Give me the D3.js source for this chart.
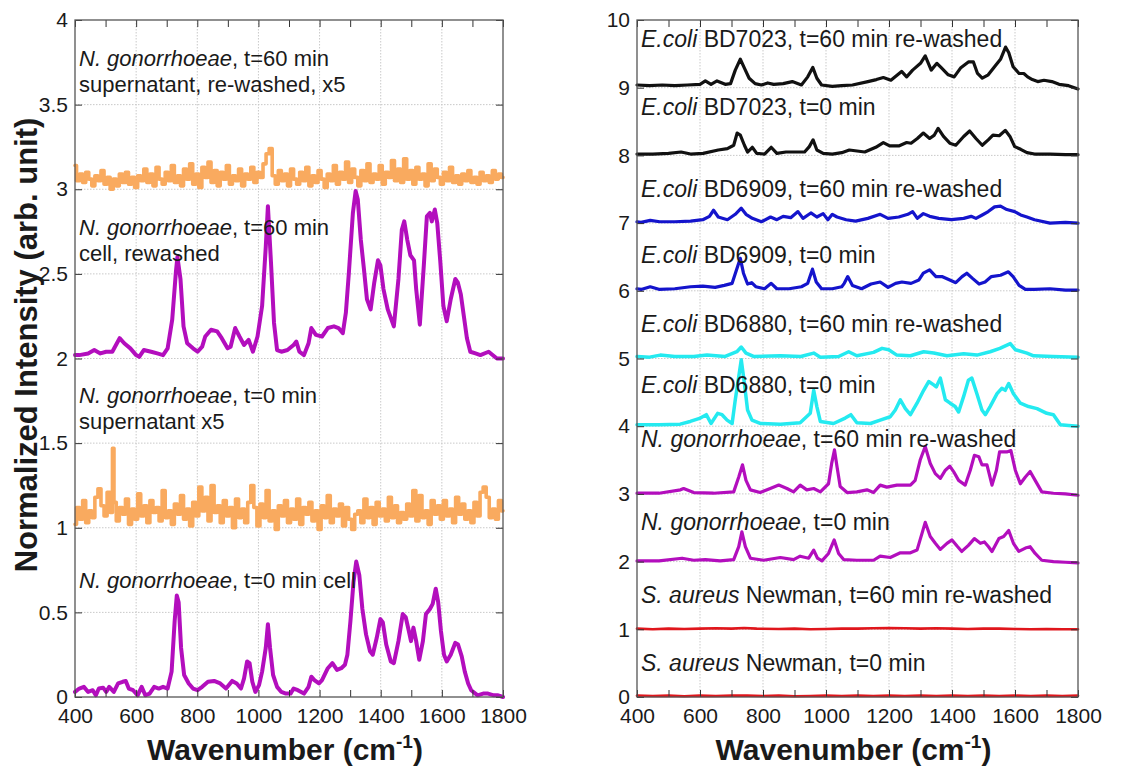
<!DOCTYPE html>
<html><head><meta charset="utf-8">
<script src="https://cdn.jsdelivr.net/npm/d3@7"></script>
<style>
body{margin:0;background:#fff;}
text{font-family:"Liberation Sans",Arial,Helvetica,sans-serif;fill:#1a1a1a;}
</style>
</head><body>
<svg id="c" width="1137" height="769"></svg>
<script>
// ---------- DATA (wavenumber cm-1, normalized intensity) ----------
const xTicks = [400,500,600,700,800,900,1000,1100,1200,1300,1400,1500,1600,1700,1800];
const xLabels = [400,600,800,1000,1200,1400,1600,1800];
const yTicksLeft = [0,0.5,1,1.5,2,2.5,3,3.5,4];
const yTicksRight = [0,1,2,3,4,5,6,7,8,9,10];

const ngSuper60 = [[400,3.14],[410,3.05],[420,3.09],[430,3.04],[440,3.10],[450,3.06],[460,3.02],[470,3.08],[480,3.05],[490,3.11],[500,3.03],[510,3.07],[520,3.00],[530,3.06],[540,3.02],[550,3.09],[560,3.04],[570,3.10],[580,3.03],[590,3.07],[600,3.01],[610,3.08],[620,3.05],[630,3.12],[640,3.04],[650,3.09],[660,3.02],[670,3.13],[680,3.06],[690,3.03],[700,3.10],[710,3.05],[720,3.14],[730,3.04],[740,3.08],[750,3.02],[760,3.12],[770,3.06],[780,3.15],[790,3.03],[800,3.09],[810,3.01],[820,3.13],[830,3.07],[840,3.16],[850,3.04],[860,3.11],[870,3.02],[880,3.10],[890,3.06],[900,3.14],[910,3.03],[920,3.08],[930,3.05],[940,3.12],[950,3.02],[960,3.09],[970,3.06],[980,3.13],[990,3.04],[1000,3.10],[1010,3.07],[1020,3.15],[1030,3.21],[1040,3.24],[1050,3.08],[1060,3.03],[1070,3.11],[1080,3.05],[1090,3.09],[1100,3.02],[1110,3.12],[1120,3.06],[1130,3.03],[1140,3.10],[1150,3.05],[1160,3.13],[1170,3.02],[1180,3.08],[1190,3.04],[1200,3.11],[1210,3.06],[1220,3.01],[1230,3.09],[1240,3.05],[1250,3.14],[1260,3.03],[1270,3.10],[1280,3.06],[1290,3.16],[1300,3.04],[1310,3.12],[1320,3.07],[1330,3.02],[1340,3.11],[1350,3.05],[1360,3.15],[1370,3.04],[1380,3.09],[1390,3.06],[1400,3.14],[1410,3.03],[1420,3.10],[1430,3.07],[1440,3.17],[1450,3.05],[1460,3.12],[1470,3.04],[1480,3.18],[1490,3.06],[1500,3.11],[1510,3.03],[1520,3.13],[1530,3.06],[1540,3.09],[1550,3.02],[1560,3.15],[1570,3.05],[1580,3.12],[1590,3.07],[1600,3.03],[1610,3.10],[1620,3.05],[1630,3.13],[1640,3.04],[1650,3.08],[1660,3.03],[1670,3.09],[1680,3.05],[1690,3.11],[1700,3.04],[1710,3.07],[1720,3.03],[1730,3.10],[1740,3.05],[1750,3.08],[1760,3.04],[1770,3.11],[1780,3.06],[1790,3.09],[1800,3.07]];

const ngCell60 = [[400,2.02],[414,2.02],[443,2.03],[463,2.05],[483,2.03],[502,2.04],[522,2.04],[546,2.12],[561,2.09],[581,2.06],[600,2.02],[610,2.01],[625,2.05],[649,2.04],[669,2.03],[688,2.02],[703,2.06],[718,2.23],[730,2.51],[735,2.60],[745,2.47],[755,2.19],[767,2.09],[786,2.06],[801,2.04],[816,2.07],[826,2.13],[845,2.17],[865,2.16],[880,2.12],[899,2.06],[909,2.07],[924,2.18],[938,2.13],[953,2.08],[968,2.11],[982,2.04],[997,2.13],[1012,2.31],[1024,2.66],[1031,2.90],[1041,2.57],[1051,2.21],[1061,2.05],[1075,2.04],[1095,2.05],[1115,2.08],[1124,2.10],[1134,2.04],[1149,2.02],[1164,2.09],[1173,2.18],[1188,2.14],[1208,2.13],[1227,2.18],[1247,2.19],[1262,2.18],[1276,2.15],[1286,2.27],[1296,2.51],[1309,2.86],[1318,2.99],[1325,2.94],[1335,2.70],[1345,2.53],[1355,2.35],[1367,2.29],[1379,2.45],[1391,2.58],[1399,2.55],[1409,2.41],[1423,2.29],[1443,2.19],[1458,2.47],[1469,2.76],[1477,2.81],[1487,2.70],[1497,2.61],[1509,2.58],[1516,2.41],[1528,2.20],[1541,2.55],[1551,2.84],[1561,2.86],[1567,2.81],[1577,2.88],[1585,2.80],[1595,2.57],[1605,2.31],[1616,2.22],[1629,2.35],[1644,2.47],[1652,2.45],[1662,2.38],[1672,2.25],[1682,2.12],[1693,2.04],[1710,2.03],[1726,2.02],[1753,2.04],[1780,2.00],[1800,2.00]];

const ngSuper0 = [[400,1.02],[410,1.12],[420,1.05],[430,1.16],[440,1.03],[450,1.10],[460,1.06],[470,1.18],[480,1.23],[490,1.13],[500,1.07],[510,1.21],[520,1.09],[525,1.47],[530,1.15],[540,1.04],[550,1.12],[560,1.08],[570,1.17],[580,1.02],[590,1.11],[600,1.05],[610,1.20],[620,1.07],[630,1.13],[640,1.03],[650,1.16],[660,1.09],[670,1.12],[680,1.04],[690,1.22],[700,1.06],[710,1.10],[720,1.02],[730,1.14],[740,1.08],[750,1.19],[760,1.05],[770,1.11],[780,1.01],[790,1.15],[800,1.07],[810,1.24],[820,1.10],[830,1.18],[840,1.04],[850,1.25],[860,1.09],[870,1.13],[880,1.03],[890,1.16],[900,1.07],[910,1.12],[920,1.00],[930,1.17],[940,1.06],[950,1.11],[960,1.03],[970,1.15],[980,1.25],[990,1.12],[1000,1.01],[1010,1.14],[1020,1.06],[1030,1.22],[1040,1.04],[1050,1.10],[1060,0.99],[1070,1.13],[1080,1.07],[1090,1.16],[1100,1.03],[1110,1.11],[1120,1.05],[1130,1.17],[1140,1.02],[1150,1.12],[1160,1.08],[1170,1.15],[1180,1.04],[1190,1.10],[1200,0.99],[1210,1.13],[1220,1.06],[1230,1.19],[1240,1.03],[1250,1.11],[1260,1.07],[1270,1.14],[1280,1.01],[1290,1.12],[1300,1.05],[1310,0.99],[1320,1.08],[1330,1.10],[1340,1.03],[1350,1.17],[1360,1.06],[1370,1.12],[1380,1.02],[1390,1.15],[1400,1.07],[1410,1.11],[1420,1.04],[1430,1.18],[1440,1.06],[1450,1.13],[1460,1.03],[1470,1.09],[1480,1.05],[1490,1.14],[1500,1.07],[1510,1.22],[1520,1.04],[1530,1.19],[1540,1.06],[1550,1.10],[1560,1.02],[1570,1.16],[1580,1.08],[1590,1.13],[1600,1.05],[1610,1.16],[1620,1.07],[1630,1.11],[1640,1.03],[1650,1.18],[1660,1.08],[1670,1.14],[1680,1.05],[1690,1.10],[1700,1.03],[1710,1.15],[1720,1.07],[1730,1.21],[1740,1.24],[1750,1.18],[1760,1.06],[1770,1.11],[1780,1.05],[1790,1.16],[1800,1.10]];

const ngCell0 = [[400,0.03],[414,0.05],[429,0.06],[443,0.03],[458,0.04],[468,0.01],[478,0.05],[492,0.055],[502,0.03],[512,0.06],[527,0.03],[541,0.08],[556,0.09],[566,0.095],[576,0.05],[590,0.04],[605,0.01],[618,0.06],[630,0.01],[644,0.02],[659,0.06],[674,0.05],[688,0.06],[703,0.05],[716,0.15],[726,0.45],[733,0.60],[739,0.56],[747,0.29],[757,0.13],[772,0.08],[786,0.05],[801,0.04],[816,0.06],[835,0.09],[855,0.095],[875,0.08],[894,0.05],[914,0.095],[929,0.08],[943,0.05],[953,0.11],[963,0.21],[971,0.20],[980,0.09],[990,0.03],[1002,0.07],[1012,0.15],[1024,0.29],[1031,0.43],[1038,0.29],[1048,0.13],[1061,0.06],[1075,0.03],[1090,0.02],[1105,0.02],[1115,0.05],[1129,0.04],[1149,0.02],[1164,0.06],[1173,0.12],[1183,0.10],[1198,0.08],[1208,0.10],[1227,0.17],[1242,0.20],[1257,0.16],[1271,0.17],[1283,0.19],[1291,0.25],[1301,0.45],[1311,0.68],[1320,0.80],[1330,0.72],[1340,0.52],[1352,0.37],[1365,0.27],[1374,0.25],[1387,0.35],[1399,0.46],[1407,0.44],[1418,0.31],[1433,0.21],[1443,0.20],[1458,0.33],[1472,0.49],[1482,0.47],[1492,0.39],[1499,0.33],[1507,0.41],[1516,0.33],[1526,0.22],[1538,0.33],[1548,0.49],[1561,0.52],[1570,0.55],[1580,0.64],[1588,0.56],[1597,0.39],[1607,0.25],[1616,0.21],[1629,0.25],[1644,0.32],[1653,0.31],[1665,0.24],[1675,0.15],[1686,0.08],[1696,0.04],[1717,0.01],[1735,0.02],[1751,0.02],[1770,0.01],[1784,0.01],[1800,0.0]];

const ec7023_60 = [[400,9.04],[440,9.03],[480,9.04],[520,9.03],[560,9.04],[600,9.05],[617,9.10],[635,9.05],[654,9.10],[680,9.05],[697,9.06],[712,9.26],[728,9.42],[741,9.29],[756,9.14],[775,9.06],[795,9.04],[815,9.07],[834,9.05],[864,9.06],[893,9.09],[922,9.04],[942,9.16],[958,9.30],[971,9.14],[986,9.04],[1020,9.02],[1050,9.03],[1084,9.04],[1133,9.09],[1160,9.12],[1182,9.15],[1206,9.11],[1240,9.24],[1256,9.16],[1275,9.26],[1300,9.36],[1315,9.47],[1334,9.26],[1352,9.36],[1365,9.30],[1388,9.19],[1407,9.16],[1427,9.29],[1452,9.38],[1468,9.38],[1481,9.21],[1496,9.14],[1515,9.19],[1535,9.31],[1554,9.42],[1570,9.60],[1580,9.52],[1594,9.31],[1613,9.21],[1628,9.21],[1640,9.16],[1655,9.12],[1672,9.09],[1692,9.11],[1717,9.09],[1740,9.05],[1770,9.03],[1800,8.98]];

const ec7023_0 = [[400,8.02],[450,8.02],[500,8.03],[540,8.05],[570,8.02],[610,8.03],[658,8.08],[687,8.10],[707,8.15],[718,8.33],[728,8.30],[741,8.15],[751,8.05],[766,8.12],[780,8.03],[805,8.02],[826,8.12],[844,8.03],[873,8.05],[903,8.05],[932,8.05],[947,8.13],[959,8.23],[971,8.08],[991,8.03],[1020,8.02],[1050,8.04],[1074,8.08],[1123,8.05],[1158,8.12],[1182,8.19],[1202,8.14],[1231,8.14],[1256,8.19],[1270,8.18],[1290,8.25],[1309,8.33],[1329,8.25],[1344,8.30],[1356,8.40],[1373,8.28],[1393,8.18],[1412,8.15],[1437,8.28],[1456,8.36],[1476,8.25],[1496,8.15],[1515,8.23],[1530,8.30],[1550,8.29],[1569,8.37],[1584,8.28],[1599,8.13],[1618,8.09],[1638,8.04],[1662,8.02],[1711,8.02],[1760,8.01],[1800,8.01]];

const ec6909_60 = [[400,7.02],[413,7.01],[442,7.04],[472,7.02],[520,7.02],[570,7.03],[609,7.05],[630,7.10],[643,7.19],[658,7.09],[687,7.05],[712,7.13],[731,7.22],[746,7.13],[766,7.07],[795,7.02],[824,7.09],[844,7.05],[864,7.10],[888,7.08],[911,7.17],[927,7.07],[952,7.15],[971,7.09],[991,7.14],[1006,7.05],[1020,7.13],[1035,7.09],[1064,7.05],[1094,7.03],[1133,7.07],[1172,7.13],[1197,7.07],[1231,7.09],[1260,7.13],[1275,7.17],[1290,7.07],[1309,7.14],[1329,7.10],[1358,7.07],[1398,7.05],[1437,7.07],[1461,7.10],[1476,7.07],[1496,7.12],[1515,7.17],[1535,7.24],[1554,7.25],[1574,7.20],[1599,7.17],[1618,7.12],[1638,7.09],[1662,7.05],[1711,7.00],[1760,7.01],[1800,7.00]];

const ec6909_0 = [[400,6.03],[413,6.02],[442,6.06],[472,6.02],[520,6.03],[570,6.06],[609,6.07],[648,6.05],[677,6.08],[702,6.11],[716,6.31],[728,6.48],[738,6.26],[751,6.10],[764,6.12],[777,6.06],[805,6.03],[826,6.11],[844,6.03],[883,6.03],[922,6.06],[942,6.11],[957,6.32],[969,6.13],[986,6.03],[1020,6.03],[1050,6.06],[1058,6.11],[1069,6.21],[1084,6.08],[1113,6.03],[1143,6.10],[1172,6.13],[1197,6.05],[1221,6.11],[1241,6.13],[1270,6.11],[1295,6.16],[1309,6.26],[1329,6.31],[1349,6.21],[1368,6.21],[1393,6.16],[1412,6.12],[1432,6.21],[1447,6.26],[1466,6.18],[1486,6.10],[1505,6.13],[1525,6.21],[1554,6.23],[1579,6.28],[1594,6.21],[1613,6.08],[1633,6.02],[1662,6.02],[1711,6.03],[1760,6.01],[1800,6.01]];

const ec6880_60 = [[400,5.03],[440,5.02],[474,5.05],[520,5.03],[580,5.03],[622,5.05],[680,5.03],[717,5.10],[731,5.17],[746,5.08],[770,5.03],[855,5.04],[920,5.03],[961,5.08],[982,5.02],[1040,5.03],[1072,5.10],[1098,5.04],[1151,5.09],[1178,5.15],[1199,5.13],[1225,5.05],[1268,5.04],[1310,5.10],[1342,5.08],[1384,5.04],[1437,5.07],[1479,5.05],[1521,5.10],[1552,5.15],[1585,5.22],[1601,5.13],[1638,5.08],[1659,5.04],[1720,5.03],[1800,5.02]];

const ec6880_0 = [[400,4.02],[470,4.02],[537,4.03],[569,4.07],[601,4.12],[620,4.17],[635,4.04],[656,4.19],[670,4.17],[686,4.09],[702,4.04],[712,4.39],[723,4.73],[731,4.98],[741,4.63],[751,4.24],[765,4.09],[791,4.04],[855,4.03],[918,4.05],[950,4.19],[961,4.53],[971,4.29],[982,4.07],[1024,4.04],[1061,4.12],[1079,4.17],[1098,4.05],[1141,4.04],[1172,4.09],[1204,4.14],[1220,4.24],[1236,4.39],[1252,4.26],[1268,4.17],[1289,4.34],[1310,4.53],[1326,4.66],[1342,4.61],[1350,4.58],[1363,4.71],[1379,4.39],[1394,4.34],[1410,4.29],[1421,4.21],[1437,4.44],[1452,4.68],[1463,4.71],[1479,4.48],[1495,4.24],[1506,4.17],[1521,4.29],[1543,4.48],[1558,4.56],[1569,4.53],[1580,4.63],[1595,4.48],[1617,4.34],[1643,4.29],[1670,4.26],[1701,4.19],[1722,4.17],[1744,4.02],[1770,4.01],[1800,4.00]];

const ngRe60 = [[400,3.01],[470,3.01],[538,3.06],[548,3.08],[580,3.02],[643,3.01],[707,3.03],[723,3.25],[735,3.43],[746,3.20],[760,3.06],[791,3.02],[823,3.08],[850,3.13],[876,3.08],[897,3.03],[918,3.13],[939,3.06],[961,3.08],[982,3.03],[1008,3.15],[1018,3.45],[1027,3.65],[1035,3.40],[1045,3.11],[1067,3.02],[1098,3.03],[1130,3.06],[1151,3.02],[1172,3.13],[1193,3.10],[1225,3.13],[1268,3.13],[1283,3.20],[1299,3.50],[1315,3.70],[1331,3.45],[1347,3.30],[1363,3.23],[1379,3.35],[1393,3.41],[1405,3.33],[1421,3.20],[1442,3.13],[1458,3.35],[1471,3.57],[1485,3.55],[1495,3.43],[1511,3.43],[1527,3.13],[1541,3.35],[1551,3.62],[1574,3.62],[1587,3.64],[1601,3.35],[1617,3.15],[1633,3.25],[1648,3.33],[1664,3.20],[1685,3.03],[1722,3.01],[1760,3.00],[1800,2.98]];

const ngRe0 = [[400,2.01],[470,2.01],[543,2.05],[580,2.02],[617,2.03],[664,2.01],[707,2.03],[723,2.22],[733,2.44],[744,2.22],[760,2.05],[802,2.02],[855,2.06],[897,2.03],[918,2.08],[945,2.05],[961,2.17],[973,2.05],[987,2.01],[1008,2.12],[1026,2.32],[1040,2.12],[1056,2.03],[1098,2.02],[1151,2.02],[1172,2.08],[1204,2.06],[1236,2.13],[1268,2.13],[1289,2.17],[1305,2.42],[1315,2.58],[1331,2.37],[1347,2.27],[1363,2.18],[1384,2.27],[1400,2.32],[1416,2.23],[1431,2.15],[1452,2.24],[1471,2.34],[1490,2.27],[1503,2.29],[1516,2.22],[1527,2.15],[1549,2.34],[1564,2.37],[1580,2.46],[1595,2.27],[1612,2.15],[1633,2.20],[1648,2.22],[1664,2.12],[1685,2.02],[1722,2.00],[1760,1.99],[1800,1.98]];

const sa60 = [[400,1.01],[450,1.00],[500,1.01],[550,1.005],[600,1.01],[650,1.015],[700,1.01],[740,1.02],[780,1.01],[850,1.005],[900,1.01],[950,1.00],[1000,1.005],[1050,1.01],[1100,1.01],[1150,1.015],[1200,1.02],[1250,1.015],[1300,1.01],[1350,1.015],[1400,1.01],[1450,1.005],[1500,1.01],[1550,1.01],[1600,1.005],[1650,1.00],[1700,1.005],[1750,1.00],[1800,1.00]];

const sa0 = [[400,0.02],[450,0.015],[500,0.02],[550,0.01],[600,0.02],[650,0.015],[700,0.02],[750,0.02],[800,0.015],[850,0.02],[900,0.01],[950,0.015],[1000,0.02],[1050,0.015],[1100,0.02],[1150,0.015],[1200,0.02],[1250,0.015],[1300,0.02],[1350,0.015],[1400,0.02],[1450,0.015],[1500,0.02],[1550,0.015],[1600,0.02],[1650,0.015],[1700,0.02],[1750,0.015],[1800,0.02]];

// annotation texts: [segments], y in data units
const leftLabels = [
  {v:3.728, seg:[["N. gonorrhoeae",1],[", t=60 min",0]]},
  {v:3.575, seg:[["supernatant, re-washed, x5",0]]},
  {v:2.730, seg:[["N. gonorrhoeae",1],[", t=60 min",0]]},
  {v:2.576, seg:[["cell, rewashed",0]]},
  {v:1.737, seg:[["N. gonorrhoeae",1],[", t=0 min",0]]},
  {v:1.583, seg:[["supernatant x5",0]]},
  {v:0.644, seg:[["N. gonorrhoeae",1],[", t=0 min cell",0]]}
];
const rightLabels = [
  {v:9.60, seg:[["E.coli",1],[" BD7023, t=60 min re-washed",0]]},
  {v:8.60, seg:[["E.coli",1],[" BD7023, t=0 min",0]]},
  {v:7.39, seg:[["E.coli",1],[" BD6909, t=60 min re-washed",0]]},
  {v:6.41, seg:[["E.coli",1],[" BD6909, t=0 min",0]]},
  {v:5.39, seg:[["E.coli",1],[" BD6880, t=60 min re-washed",0]]},
  {v:4.49, seg:[["E.coli",1],[" BD6880, t=0 min",0]]},
  {v:3.69, seg:[["N. gonorrhoeae",1],[", t=60 min re-washed",0]]},
  {v:2.47, seg:[["N. gonorrhoeae",1],[", t=0 min",0]]},
  {v:1.39, seg:[["S. aureus",1],[" Newman, t=60 min re-washed",0]]},
  {v:0.38, seg:[["S. aureus",1],[" Newman, t=0 min",0]]}
];

// ---------- STYLE ----------
const C = {purple:"#b30ebd", orange:"#f9aa5f", black:"#111111", blue:"#1414cc", cyan:"#24eaf0", red:"#e0161c"};

const svg = d3.select("#c");

function panel(o){
  const x = d3.scaleLinear().domain([400,1800]).range([o.x0,o.x1]);
  const y = d3.scaleLinear().domain(o.ydom).range([o.y1,o.y0]);
  const g = svg.append("g");
  // grid
  g.append("g").selectAll("line").data(xLabels.filter(d=>d>400&&d<1800)).join("line")
    .attr("x1",d=>x(d)).attr("x2",d=>x(d)).attr("y1",o.y0).attr("y2",o.y1)
    .attr("stroke","#c9c9c9").attr("stroke-width",1).attr("stroke-dasharray","1.5,1.5");
  g.append("g").selectAll("line").data(o.yticks.slice(1,-1)).join("line")
    .attr("y1",d=>y(d)).attr("y2",d=>y(d)).attr("x1",o.x0).attr("x2",o.x1)
    .attr("stroke","#c9c9c9").attr("stroke-width",1).attr("stroke-dasharray","1.5,1.5");
  // series
  const line = d3.line().x(d=>x(d[0])).y(d=>y(d[1]));
  const lineStep = d3.line().x(d=>x(d[0])).y(d=>y(d[1])).curve(d3.curveStep);
  o.series.forEach(s=>{
    g.append("path").datum(s.data).attr("d", s.step?lineStep:line)
      .attr("fill","none").attr("stroke",s.color).attr("stroke-width",s.w)
      .attr("stroke-linejoin","round").attr("stroke-linecap","round");
  });
  // axes
  const fmt = d => xLabels.includes(d) ? d : "";
  g.append("g").attr("transform",`translate(0,${o.y1})`)
    .call(d3.axisBottom(x).tickValues(xTicks).tickFormat(fmt).tickSizeInner(-7).tickSizeOuter(0).tickPadding(11));
  g.append("g").attr("transform",`translate(0,${o.y0})`)
    .call(d3.axisTop(x).tickValues(xTicks).tickFormat("").tickSizeInner(-7).tickSizeOuter(0));
  g.append("g").attr("transform",`translate(${o.x0},0)`)
    .call(d3.axisLeft(y).tickValues(o.yticks).tickFormat(d3.format("~g")).tickSizeInner(-7).tickSizeOuter(0).tickPadding(7));
  g.append("g").attr("transform",`translate(${o.x1},0)`)
    .call(d3.axisRight(y).tickValues(o.yticks).tickFormat("").tickSizeInner(-7).tickSizeOuter(0));
  g.selectAll(".domain").remove();
  g.selectAll(".tick line").attr("stroke","#333").attr("stroke-width",1);
  g.selectAll(".tick text").attr("font-size",21).attr("fill","#1a1a1a")
    .attr("font-family",'"Liberation Sans",Arial,sans-serif');
  // frame
  g.append("rect").attr("x",o.x0).attr("y",o.y0).attr("width",o.x1-o.x0).attr("height",o.y1-o.y0)
    .attr("fill","none").attr("stroke","#555").attr("stroke-width",1.3);
  // labels
  o.labels.forEach(l=>{
    const t = g.append("text").attr("x",o.x0+4).attr("y",y(l.v)).attr("font-size",o.fs);
    l.seg.forEach(s=>t.append("tspan").text(s[0]).attr("font-style",s[1]?"italic":"normal"));
  });
  // x title
  const xt = g.append("text").attr("x",(o.x0+o.x1)/2-4).attr("y",760).attr("text-anchor","middle")
    .attr("font-size",30).attr("font-weight","bold");
  xt.append("tspan").text("Wavenumber (cm");
  xt.append("tspan").text("-1").attr("font-size",19).attr("dy",-12);
  xt.append("tspan").text(")").attr("dy",12);
}

panel({x0:75,x1:503,y0:20,y1:697,ydom:[0,4],yticks:yTicksLeft,labels:leftLabels,fs:22,
  series:[
    {data:ngSuper60,color:C.orange,w:3.6,step:true},
    {data:ngCell60,color:C.purple,w:4},
    {data:ngSuper0,color:C.orange,w:3.6,step:true},
    {data:ngCell0,color:C.purple,w:4}
  ]});

panel({x0:637,x1:1078,y0:20,y1:697,ydom:[0,10],yticks:yTicksRight,labels:rightLabels,fs:23,
  series:[
    {data:ec7023_60,color:C.black,w:3.2},
    {data:ec7023_0,color:C.black,w:3.2},
    {data:ec6909_60,color:C.blue,w:3.2},
    {data:ec6909_0,color:C.blue,w:3.2},
    {data:ec6880_60,color:C.cyan,w:3.5},
    {data:ec6880_0,color:C.cyan,w:3.5},
    {data:ngRe60,color:C.purple,w:3.2},
    {data:ngRe0,color:C.purple,w:3.2},
    {data:sa60,color:C.red,w:2.6},
    {data:sa0,color:C.red,w:2.6}
  ]});

svg.append("text").attr("transform","translate(37,345) rotate(-90)").attr("text-anchor","middle")
  .attr("font-size",31).attr("font-weight","bold").text("Normalized Intensity (arb. unit)");
</script>
</body></html>
